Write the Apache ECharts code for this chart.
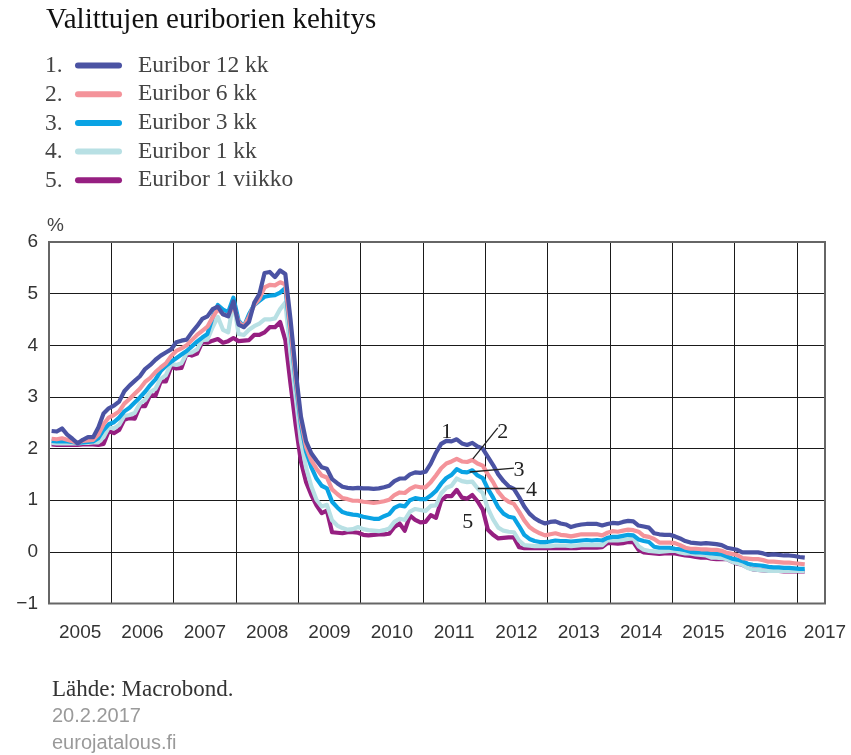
<!DOCTYPE html>
<html><head><meta charset="utf-8">
<script src="https://cdn.jsdelivr.net/npm/echarts@6/dist/echarts.min.js"></script>
<style>html,body{margin:0;padding:0;background:#fff}#c{width:851px;height:755px}</style>
</head><body><div id="c"></div>
<script>
// ---- data (monthly, Jan 2005 .. Feb 2017) ----
const startYear = 2005, startMonth = 1;
const seriesNames = ['Euribor 12 kk','Euribor 6 kk','Euribor 3 kk','Euribor 1 kk','Euribor 1 viikko'];
const seriesColors = ['#4b53a3','#f4939a','#0aa3e4','#b8e0e4','#961f81'];
const xTickLabels = ['2005','2006','2007','2008','2009','2010','2011','2012','2013','2014','2015','2016','2017'];
const xLabelValues = [2005.5,2006.5,2007.5,2008.5,2009.5,2010.5,2011.5,2012.5,2013.5,2014.5,2015.5,2016.5,2017.45];
const yTickLabels = ['−1','0','1','2','3','4','5','6'];

const e12m = [
 2.34,2.33,2.39,2.27,2.19,2.10,2.17,2.22,2.22,2.41,2.68,2.78,
 2.83,2.91,3.11,3.22,3.31,3.40,3.54,3.62,3.72,3.80,3.86,3.92,
 4.06,4.09,4.11,4.25,4.37,4.51,4.56,4.70,4.75,4.60,4.56,4.85,
 4.40,4.35,4.45,4.82,4.99,5.40,5.42,5.32,5.45,5.38,4.50,3.50,
 2.62,2.14,1.91,1.77,1.64,1.61,1.41,1.33,1.26,1.24,1.23,1.24,
 1.23,1.23,1.22,1.23,1.25,1.28,1.37,1.42,1.42,1.50,1.54,1.53,
 1.55,1.71,1.92,2.09,2.15,2.14,2.18,2.10,2.07,2.11,2.04,2.00,
 1.84,1.68,1.50,1.37,1.27,1.22,1.06,0.88,0.74,0.65,0.59,0.55,
 0.58,0.59,0.55,0.53,0.48,0.51,0.53,0.54,0.54,0.54,0.51,0.54,
 0.56,0.55,0.58,0.60,0.59,0.51,0.49,0.47,0.36,0.34,0.33,0.33,
 0.30,0.26,0.21,0.18,0.17,0.16,0.17,0.16,0.15,0.13,0.08,0.06,
 0.04,-0.01,-0.01,-0.01,-0.01,-0.03,-0.06,-0.05,-0.06,-0.07,-0.07,-0.08,
 -0.10,-0.11];
const e6m = [
 2.19,2.18,2.20,2.17,2.14,2.11,2.15,2.16,2.17,2.27,2.47,2.60,
 2.65,2.72,2.87,2.96,3.06,3.16,3.29,3.37,3.48,3.57,3.65,3.79,
 3.89,3.94,4.00,4.10,4.20,4.28,4.36,4.54,4.70,4.60,4.57,4.78,
 4.45,4.36,4.55,4.78,4.90,5.12,5.17,5.16,5.22,5.18,4.29,3.37,
 2.54,2.03,1.77,1.61,1.48,1.44,1.21,1.12,1.04,1.02,0.99,0.99,
 0.97,0.96,0.95,0.96,0.98,1.01,1.10,1.15,1.14,1.22,1.27,1.25,
 1.25,1.35,1.48,1.62,1.71,1.75,1.80,1.75,1.74,1.78,1.71,1.67,
 1.50,1.35,1.16,1.04,0.97,0.93,0.78,0.61,0.48,0.41,0.36,0.32,
 0.34,0.36,0.33,0.32,0.30,0.32,0.34,0.34,0.34,0.34,0.32,0.37,
 0.40,0.39,0.41,0.43,0.42,0.39,0.31,0.29,0.25,0.18,0.18,0.18,
 0.17,0.13,0.08,0.06,0.06,0.05,0.05,0.04,0.04,0.02,-0.02,-0.04,
 -0.06,-0.12,-0.13,-0.14,-0.14,-0.16,-0.19,-0.19,-0.20,-0.21,-0.21,-0.22,
 -0.23,-0.24];
const e3m = [
 2.15,2.14,2.14,2.14,2.13,2.11,2.12,2.13,2.14,2.20,2.36,2.47,
 2.51,2.60,2.72,2.79,2.89,2.99,3.10,3.23,3.34,3.50,3.60,3.68,
 3.75,3.82,3.89,3.98,4.07,4.15,4.22,4.54,4.78,4.69,4.64,4.92,
 4.48,4.36,4.60,4.78,4.86,4.94,4.96,4.97,5.02,5.11,4.24,3.29,
 2.46,1.94,1.64,1.42,1.28,1.23,0.97,0.86,0.77,0.74,0.72,0.71,
 0.68,0.66,0.64,0.64,0.69,0.73,0.85,0.90,0.88,1.00,1.04,1.02,
 1.02,1.09,1.18,1.32,1.43,1.49,1.60,1.55,1.54,1.58,1.48,1.43,
 1.22,1.05,0.86,0.74,0.68,0.66,0.50,0.33,0.25,0.21,0.19,0.19,
 0.20,0.22,0.21,0.21,0.20,0.21,0.22,0.23,0.22,0.23,0.22,0.27,
 0.29,0.29,0.31,0.33,0.32,0.24,0.21,0.19,0.10,0.08,0.08,0.08,
 0.06,0.05,0.03,0.00,-0.01,-0.01,-0.02,-0.03,-0.04,-0.05,-0.09,-0.13,
 -0.15,-0.18,-0.23,-0.25,-0.26,-0.27,-0.29,-0.30,-0.30,-0.31,-0.31,-0.32,
 -0.33,-0.33];
const e1m = [
 2.11,2.10,2.10,2.10,2.10,2.10,2.11,2.11,2.12,2.12,2.22,2.41,
 2.39,2.46,2.63,2.65,2.69,2.87,2.94,3.09,3.16,3.35,3.42,3.64,
 3.62,3.65,3.84,3.86,3.92,4.10,4.11,4.35,4.55,4.30,4.25,4.85,
 4.22,4.20,4.30,4.37,4.42,4.50,4.50,4.52,4.70,4.83,3.84,2.99,
 2.14,1.63,1.27,1.01,0.88,0.91,0.61,0.51,0.46,0.43,0.44,0.48,
 0.44,0.42,0.41,0.40,0.42,0.45,0.58,0.64,0.62,0.78,0.83,0.81,
 0.79,0.89,0.90,1.13,1.24,1.28,1.42,1.37,1.35,1.36,1.23,1.14,
 0.84,0.63,0.47,0.41,0.39,0.38,0.22,0.13,0.12,0.11,0.11,0.11,
 0.11,0.12,0.12,0.12,0.11,0.12,0.13,0.13,0.13,0.13,0.13,0.22,
 0.22,0.22,0.23,0.25,0.26,0.11,0.04,0.02,0.01,0.00,0.01,0.02,
 0.02,-0.01,-0.03,-0.03,-0.05,-0.06,-0.07,-0.11,-0.11,-0.12,-0.14,-0.19,
 -0.22,-0.25,-0.31,-0.34,-0.35,-0.36,-0.37,-0.37,-0.37,-0.37,-0.37,-0.37,
 -0.37,-0.37];
const e1w = [
 2.08,2.07,2.07,2.07,2.07,2.07,2.08,2.08,2.08,2.07,2.09,2.34,
 2.30,2.36,2.56,2.59,2.58,2.82,2.82,3.04,3.02,3.30,3.30,3.58,
 3.55,3.56,3.84,3.80,3.84,4.06,4.05,4.09,4.12,4.05,4.08,4.14,
 4.08,4.09,4.10,4.20,4.20,4.25,4.35,4.35,4.45,4.10,3.25,2.45,
 1.75,1.35,1.10,0.90,0.75,0.80,0.38,0.37,0.36,0.38,0.38,0.37,
 0.33,0.32,0.33,0.34,0.34,0.35,0.48,0.55,0.41,0.70,0.62,0.57,
 0.58,0.71,0.66,0.99,1.08,1.08,1.20,1.05,1.03,1.10,0.98,0.82,
 0.43,0.33,0.26,0.27,0.28,0.28,0.09,0.07,0.07,0.07,0.07,0.07,
 0.07,0.07,0.07,0.07,0.07,0.07,0.08,0.08,0.08,0.08,0.09,0.17,
 0.17,0.16,0.17,0.19,0.19,0.04,-0.01,-0.02,-0.03,-0.04,-0.03,-0.03,
 -0.03,-0.05,-0.07,-0.08,-0.10,-0.11,-0.11,-0.13,-0.14,-0.14,-0.14,-0.19,
 -0.23,-0.25,-0.30,-0.34,-0.35,-0.36,-0.37,-0.37,-0.37,-0.38,-0.38,-0.38,
 -0.38,-0.38];

const seriesValues = [e12m, e6m, e3m, e1m, e1w];

// annotation labels (in data units: year, %)
const annoLabels = [['1',2011.38,2.32],['2',2012.28,2.32],['3',2012.54,1.585],['4',2012.74,1.20],['5',2011.72,0.575]];
const annoLines = [
  [[2011.80,1.80],[2012.20,2.40]],
  [[2011.75,1.546],[2012.46,1.62]],
  [[2011.88,1.236],[2012.63,1.236]]
];

// ---- build ----
function toPoints(vals){
  return vals.map((v,i)=>{
    const m = startMonth - 1 + i;
    const t = startYear + Math.floor(m/12) + ((m%12) + 0.5)/12;
    return [t, v];
  });
}
const serif = '"Liberation Serif", "Times New Roman", serif';
const sans = '"Liberation Sans", Arial, sans-serif';

const series = [];
for (let k = seriesNames.length - 1; k >= 0; k--) {
  const s = {
    name: seriesNames[k], type: 'line', data: toPoints(seriesValues[k]),
    showSymbol: false, symbol: 'none', smooth: false,
    lineStyle: { width: 4.2, color: seriesColors[k], join: 'round' },
    itemStyle: { color: seriesColors[k] },
    emphasis: { disabled: true }, silent: true, animation: false
  };
  if (k === 0) {
    s.markLine = {
      silent: true, symbol: ['none','none'], animation: false,
      lineStyle: { color: '#222', width: 1.3, type: 'solid' },
      label: { show: false },
      data: annoLines.map(l => [{ coord: l[0] }, { coord: l[1] }])
    };
    s.markPoint = {
      silent: true, animation: false, symbol: 'rect', symbolSize: 1,
      itemStyle: { color: 'rgba(0,0,0,0)' },
      label: { show: true, position: 'inside', color: '#222', fontFamily: serif, fontSize: 22,
               formatter: p => p.name },
      data: annoLabels.map(a => ({ name: a[0], coord: [a[1], a[2]] }))
    };
  }
  series.push(s);
}

const legendTop = 53.5, rowPitch = 28.7;
const chart = echarts.init(document.getElementById('c'), null, { renderer: 'canvas' });
chart.setOption({
  animation: false,
  backgroundColor: '#fff',
  title: {
    text: 'Valittujen euriborien kehitys', left: 46, top: 6, padding: 0,
    textStyle: { fontFamily: serif, fontSize: 29, fontWeight: 'normal', color: '#111' }
  },
  legend: {
    orient: 'vertical', left: 75, top: legendTop, padding: 0,
    itemWidth: 47, itemHeight: 6, itemGap: rowPitch - 24,
    icon: 'path://M3,0L44,0A3,3,0,0,1,44,6L3,6A3,3,0,0,1,3,0Z',
    selectedMode: false,
    data: seriesNames,
    itemStyle: { borderWidth: 0 },
    textStyle: { fontFamily: serif, fontSize: 23.5, lineHeight: 23, color: '#444', padding: [0,0,0,11] }
  },
  graphic: seriesNames.map((n, i) => ({
    type: 'text', left: 45, top: legendTop + 0.5 + i * rowPitch,
    style: { text: (i + 1) + '.', font: '23.5px ' + serif, fill: '#444', lineHeight: 23 }
  })).concat([
    { type: 'text', left: 47, top: 216, style: { text: '%', font: '19px ' + sans, fill: '#444' } },
    { type: 'text', left: 52, top: 678, style: { text: 'Lähde: Macrobond.', font: '23px ' + serif, fill: '#333' } },
    { type: 'text', left: 52, top: 706, style: { text: '20.2.2017', font: '20px ' + sans, fill: '#9a9a9a' } },
    { type: 'text', left: 52, top: 733, style: { text: 'eurojatalous.fi', font: '20px ' + sans, fill: '#9a9a9a' } }
  ]),
  grid: {
    left: 49, right: 26, top: 242, bottom: 151.5, containLabel: false,
    show: true, borderColor: '#666', borderWidth: 2, backgroundColor: 'transparent', z: 3
  },
  xAxis: {
    type: 'value', min: 2005, max: 2017.45, interval: 1,
    axisLine: { show: false }, axisTick: { show: false },
    splitLine: { show: true, lineStyle: { color: '#1a1a1a', width: 1 } },
    axisLabel: {
      customValues: xLabelValues, margin: 20,
      fontFamily: sans, fontSize: 19, color: '#333',
      formatter: v => xTickLabels[Math.floor(v + 1e-6) - 2005]
    }
  },
  yAxis: {
    type: 'value', min: -1, max: 6, interval: 1,
    axisLine: { show: false }, axisTick: { show: false },
    splitLine: { show: true, lineStyle: { color: '#1a1a1a', width: 1 } },
    axisLabel: {
      margin: 11, fontFamily: sans, fontSize: 19, color: '#333',
      formatter: v => yTickLabels[Math.round(v) + 1]
    }
  },
  series: series
});
</script>
</body></html>
